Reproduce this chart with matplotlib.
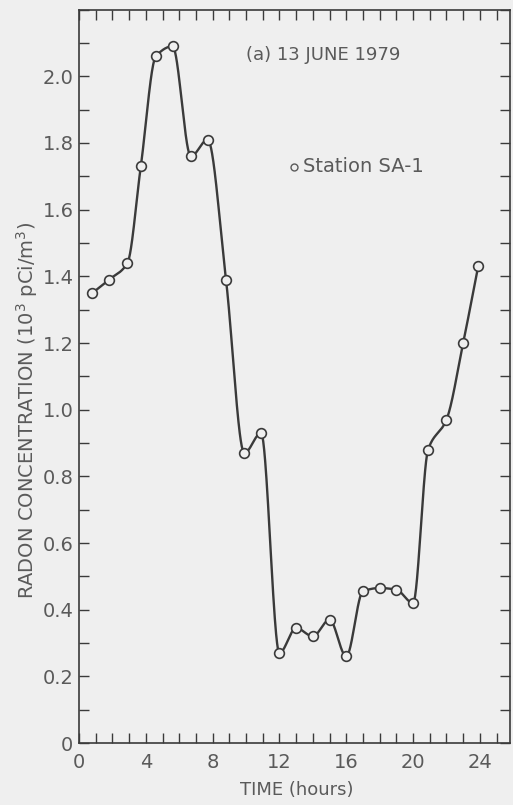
import numpy as np
import matplotlib

matplotlib.use("Agg")

import matplotlib.pyplot as plt
from matplotlib.ticker import MultipleLocator


# Station SA-1 radon readings, 13 June 1979
hours = [0.8, 1.8, 2.9, 3.7, 4.6, 5.6, 6.7, 7.7, 8.8, 9.9, 10.9, 12.0,
         13.0, 14.0, 15.0, 16.0, 17.0, 18.0, 19.0, 20.0, 20.9, 22.0, 23.0, 23.9]
radon = [1.35, 1.39, 1.44, 1.73, 2.06, 2.09, 1.76, 1.81, 1.39, 0.87, 0.93, 0.27,
         0.345, 0.32, 0.37, 0.26, 0.455, 0.465, 0.46, 0.42, 0.88, 0.97, 1.20, 1.43]

x_ticks = [0, 4, 8, 12, 16, 20, 24]
y_ticks = [0, 0.2, 0.4, 0.6, 0.8, 1.0, 1.2, 1.4, 1.6, 1.8, 2.0]
y_tick_labels = ["0", "0.2", "0.4", "0.6", "0.8", "1.0", "1.2", "1.4", "1.6", "1.8", "2.0"]

BG = "#efefef"
INK = "#3a3a3a"
TEXT = "#5a5a5a"


def pchip(x, y, xs):
    """Monotone cubic Hermite curve through the points."""
    x = np.asarray(x, float)
    y = np.asarray(y, float)
    h = np.diff(x)
    d = np.diff(y) / h
    m = np.zeros_like(y)
    for k in range(1, len(x) - 1):
        if d[k - 1] * d[k] > 0:
            w1 = 2 * h[k] + h[k - 1]
            w2 = h[k] + 2 * h[k - 1]
            m[k] = (w1 + w2) / (w1 / d[k - 1] + w2 / d[k])
    m[0] = d[0]
    m[-1] = d[-1]
    idx = np.clip(np.searchsorted(x, xs) - 1, 0, len(h) - 1)
    t = (xs - x[idx]) / h[idx]
    h00 = 2 * t**3 - 3 * t**2 + 1
    h10 = t**3 - 2 * t**2 + t
    h01 = -2 * t**3 + 3 * t**2
    h11 = t**3 - t**2
    return (h00 * y[idx] + h10 * h[idx] * m[idx]
            + h01 * y[idx + 1] + h11 * h[idx] * m[idx + 1])


plt.rcParams["font.family"] = ["DejaVu Sans"]

fig = plt.figure(figsize=(5.13, 8.05), dpi=100, facecolor=BG)
ax = fig.add_axes([0.154, 0.077, 0.84, 0.911], facecolor=BG)

xs = np.linspace(hours[0], hours[-1], 1200)
ax.plot(xs, pchip(hours, radon, xs), color=INK, linewidth=1.7, zorder=2)
ax.plot(hours, radon, linestyle="none", marker="o", markersize=7,
        markerfacecolor=BG, markeredgecolor=INK, markeredgewidth=1.2, zorder=3)

ax.set_xlim(0, 25.8)
ax.set_ylim(0, 2.2)

ax.set_xticks(x_ticks)
ax.set_yticks(y_ticks)
ax.set_yticklabels(y_tick_labels)
ax.xaxis.set_minor_locator(MultipleLocator(1))
ax.yaxis.set_minor_locator(MultipleLocator(0.1))

ax.tick_params(which="both", direction="in", length=7, width=1.0,
               color=INK, top=True, right=True)
ax.tick_params(axis="x", which="major", labelsize=14, labelcolor=TEXT, pad=7)
ax.tick_params(axis="y", which="major", labelsize=14, labelcolor=TEXT, pad=4)

for spine in ax.spines.values():
    spine.set_color(INK)
    spine.set_linewidth(1.2)

ax.set_xlabel("TIME (hours)", fontsize=13, color=TEXT)
ax.xaxis.label.set_va("center")
ax.xaxis.set_label_coords(0.506, -0.064)

ax.set_ylabel(r"RADON CONCENTRATION (10$^3$ pCi/m$^3$)", fontsize=14, color=TEXT)
ax.yaxis.label.set_va("center")
ax.yaxis.set_label_coords(-0.12, 0.453)

ax.text(10.0, 2.064, "(a) 13 JUNE 1979", fontsize=13, color=TEXT,
        ha="left", va="center")

ax.plot([12.9], [1.728], linestyle="none", marker="o", markersize=5,
        markerfacecolor=BG, markeredgecolor=TEXT, markeredgewidth=1.0)
ax.text(13.4, 1.728, "Station SA-1", fontsize=14, color=TEXT,
        ha="left", va="center")

fig.savefig("out.png", dpi=100, facecolor=BG)
